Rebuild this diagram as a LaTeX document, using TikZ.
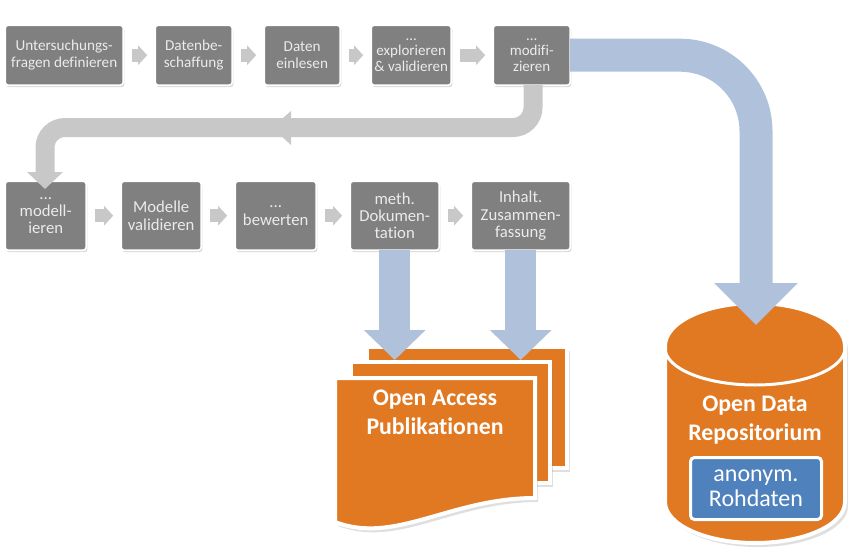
\documentclass[tikz,border=0pt]{standalone}
\usepackage{fontspec}
\setmainfont[Ligatures=NoCommon]{Carlito}
\usetikzlibrary{arrows.meta,shadows,positioning}
\definecolor{box-gr}{RGB}{128, 128, 128}
\definecolor{arr-gr}{RGB}{200, 200, 200}
\definecolor{arr-bl}{RGB}{176, 193, 220}
\definecolor{doc-or}{RGB}{225, 120, 34}
\definecolor{raw-bl}{RGB}{79, 129, 189}
\tikzstyle{shade}=[drop shadow={opacity=0.3,shadow xshift=1.2pt,shadow yshift=-2pt}]
\tikzstyle{bigshade}=[drop shadow={opacity=0.25,shadow xshift=3pt,shadow yshift=-4pt}]
\tikzstyle{a}=[anchor=north west]
\tikzstyle{box}=[a,draw=white,line width=1.6pt,outer sep=0pt,fill=box-gr,rounded corners=3pt,shade,text=white!92!black,align=center,inner sep=0pt,minimum height=60pt,xshift=-0.8pt,yshift=0.8pt]
\tikzstyle{small}=[font=\fontsize{15.2}{16.7}\selectfont]
\tikzstyle{tiny}=[font=\fontsize{15}{15.5}\selectfont]
\tikzstyle{large}=[font=\fontsize{16.7}{17.3}\selectfont,minimum height=69pt]
\tikzstyle{step arrow}=[draw=arr-gr,line width=13pt,shorten <=9pt,shorten >=8pt,-{Triangle[length=9pt,width=19pt]}]
\tikzstyle{sheet}=[draw=white,line width=4pt,fill=doc-or,bigshade,line join=miter]
\tikzstyle{blue arrow}=[draw=arr-bl,line width=31pt,-{Triangle[length=30pt,width=60pt]}]
\tikzstyle{title}=[text=white,align=center,font=\fontsize{23.8}{29}\selectfont\bfseries,inner sep=0pt]

\begin{document}
\begin{tikzpicture}[x=1pt,y=-1pt]
  \useasboundingbox (0,0) rectangle (852,554);

  % Publications
  \path [sheet] (367,347) rectangle (567,468);
  \path [sheet] (351,362) rectangle (550,483);
  \path [sheet] (335,378) -- (535,378) -- (535,498) .. controls (450,498) and (395,545) .. (335,522) -- cycle;
  \node [title] (oa) at (435,412) {Open Access\\Publikationen};

  % Repository
  \path [sheet] (665,346) arc [start angle=180,end angle=0,x radius=90,y radius=-43]
    -- (845,502) arc [start angle=0,end angle=-180,x radius=90,y radius=-41] -- cycle;
  \draw [white,line width=3pt] (665,348) arc [start angle=180,end angle=360,x radius=90,y radius=-37];
  \node [title] (odr) at (755,420) {Open Data\\Repositorium};
  \node [a,draw=white,line width=3pt,fill=raw-bl,rounded corners=4pt,shade,text=white,align=center,inner sep=0pt,
    minimum width=131pt,minimum height=62pt,font=\fontsize{24}{25}\selectfont] (raw) at (689,456) {anonym.\\Rohdaten};

  % First row
  \node [box,small,minimum width=118pt] (fragen) at (6,26) {Untersuchungs-\\fragen definieren};
  \node [box,small,minimum width=77pt] (daten) at (156,26) {Datenbe-\\schaffung};
  \node [box,small,minimum width=76pt] (lesen) at (265,26) {Daten\\einlesen};
  \node [box,tiny,minimum width=80pt] (explore) at (372,26) {...\\explorieren\\\& validieren};
  \node [box,tiny,minimum width=77pt] (modify) at (494,26) {...\\modifi-\\zieren};

  % Second row
  \node [box,large,minimum width=81pt] (model) at (6,182) {...\\modell-\\ieren};
  \node [box,large,minimum width=80pt] (valid) at (122,182) {Modelle\\validieren};
  \node [box,large,minimum width=81pt] (rate) at (236,182) {...\\bewerten};
  \node [box,large,minimum width=89pt] (doku) at (351,182) {meth.\\Dokumen-\\tation};
  \node [box,large,minimum width=99pt] (summary) at (472,182) {Inhalt.\\Zusammen-\\fassung};

  \draw [step arrow] (fragen.east) -- (daten.west);
  \draw [step arrow] (daten.east) -- (lesen.west);
  \draw [step arrow] (lesen.east) -- (explore.west);
  \draw [step arrow] (explore.east) -- (modify.west);
  \draw [step arrow] (model.east) -- (valid.west);
  \draw [step arrow] (valid.east) -- (rate.west);
  \draw [step arrow] (rate.east) -- (doku.west);
  \draw [step arrow] (doku.east) -- (summary.west);

  % Back to second row
  \coordinate (turn) at (533,127.5);
  \coordinate (tipm) at (45,189);
  \draw [draw=arr-gr,line width=19pt,rounded corners=20pt,-{Triangle[length=17pt,width=35pt]}]
    (modify.south -| turn) -- (turn) -- (turn -| tipm) -- (tipm);
  \path [fill=arr-gr] (272,127.5) -- (291,111) -- (291,145) -- cycle;

  % To the outputs
  \coordinate (tipd) at (0,360);
  \coordinate (tipr) at (756,325);
  \draw [blue arrow] (doku.south) -- (doku.south |- tipd);
  \draw [blue arrow] (summary.south) -- (summary.south |- tipd);
  \draw [draw=arr-bl,line width=33pt,rounded corners=76pt,-{Triangle[length=42pt,width=81pt]}]
    (modify.east) -| (tipr);
\end{tikzpicture}
\end{document}
